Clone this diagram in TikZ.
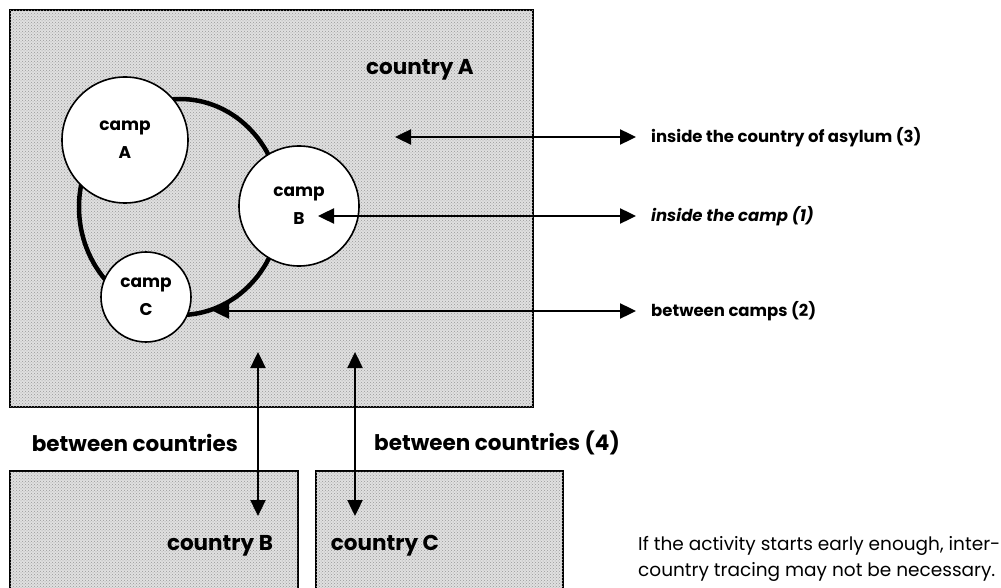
\documentclass[tikz,border=0pt]{standalone}
\usepackage{fontspec}
\setmainfont{Poppins}
\usetikzlibrary{positioning}
\usetikzlibrary{calc}
\usetikzlibrary{arrows.meta}
\usetikzlibrary{patterns}

\begin{document}
\begin{tikzpicture}[
        x=1pt, y=-1pt,
        land/.style={draw, line width=1.8pt, rectangle, inner sep=0pt, fill=black!12,
            postaction={pattern=crosshatch dots, pattern color=black!40}},
        camp/.style={draw, circle, line width=1.6pt, fill=white, inner sep=0pt, align=center,
            font=\fontsize{17}{28}\selectfont\bfseries},
        lbl/.style={font=\fontsize{16.5}{20}\selectfont\bfseries, inner sep=0pt},
        biglbl/.style={font=\fontsize{21.5}{24}\selectfont\bfseries, inner sep=0pt},
        arrow/.style={line width=2.4pt, {Triangle[length=16pt,width=15pt]}-{Triangle[length=16pt,width=15pt]}},
    ]
        \useasboundingbox (0,0) rectangle (1001,588);

        \node[land, minimum width=523, minimum height=397] (countryA) at (271.5,208.5) {};
        \node[land, minimum width=288, minimum height=120] (countryB) at (154,531) {};
        \node[land, minimum width=247, minimum height=120] (countryC) at (439.5,531) {};

        \node[biglbl] (nameA) at (420,70) {country A};
        \node[biglbl] (nameB) at (220,546) {country B};
        \node[biglbl] (nameC) at (385,546) {country C};

        \coordinate (ring) at (180,207);
        \draw[line width=4.5pt] (ring) ellipse[x radius=101, y radius=108];

        \node[camp, minimum size=126] (campA) at (125,140) {camp\\A};
        \node[camp, minimum size=120] (campB) at (299,206) {camp\\B};
        \node[camp, minimum size=90] (campC) at (146,297) {camp\\C};

        \node[lbl, anchor=west] (asylum) at (651,137) {inside the country of asylum (3)};
        \node[lbl, anchor=west] (inside) at (651,216) {\textit{inside the camp (1)}};
        \node[lbl, anchor=west] (between) at (651,311) {between camps (2)};
        \node[biglbl, anchor=east] (countriesL) at (238,443) {between countries};
        \node[biglbl, anchor=west] (countriesR) at (374,443) {between countries (4)};
        \node[anchor=west, align=left, inner sep=0pt, font=\fontsize{18.5}{26}\selectfont] (note) at (638,559)
            {If the activity starts early enough, inter-\\country tracing may not be necessary.};

        \coordinate (tipA) at (395,137);
        \coordinate (tipB) at (318,216);
        \coordinate (tipC) at (213,311);
        \coordinate (endA) at (636,137);
        \coordinate (endB) at (636,216);
        \coordinate (endC) at (636,311);
        \coordinate (upB) at (258,352);
        \coordinate (downB) at (258,516);
        \coordinate (upC) at (355,352);
        \coordinate (downC) at (355,516);

        \draw[arrow] (tipA) -- (endA);
        \draw[arrow] (tipB) -- (endB);
        \draw[arrow] (tipC) -- (endC);
        \draw[arrow] (upB) -- (downB);
        \draw[arrow] (upC) -- (downC);
    \end{tikzpicture}
\end{document}
